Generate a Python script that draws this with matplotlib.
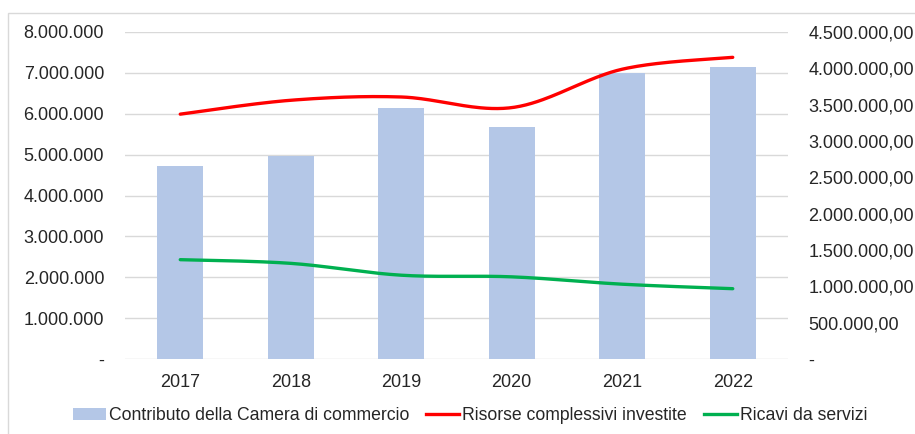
import numpy as np
import matplotlib
matplotlib.use("Agg")
import matplotlib.pyplot as plt
from matplotlib.ticker import FuncFormatter, MultipleLocator
from matplotlib.patches import Rectangle
from matplotlib.lines import Line2D
from matplotlib.patches import Patch

plt.rcParams['font.family'] = ['Liberation Sans', 'DejaVu Sans']

years = ['2017', '2018', '2019', '2020', '2021', '2022']
contributo = [2655000, 2797000, 3457000, 3196000, 3930000, 4017000]   # right axis
risorse = [5990000, 6330000, 6410000, 6150000, 7090000, 7380000]       # left axis
ricavi = [2430000, 2340000, 2050000, 2010000, 1830000, 1720000]        # left axis

labels = ['Contributo della Camera di commercio',
          'Risorse complessivi investite',
          'Ricavi da servizi']

BAR_C = '#B4C7E7'
RED = '#FF0000'
GREEN = '#00B050'
GRID = '#D9D9D9'
TXT = '#262626'
FS = 13


def smooth(xs, ys, n=40):
    xs = np.asarray(xs, float)
    ys = np.asarray(ys, float)
    P = np.column_stack([xs, ys])
    m = len(P)
    out = []
    for i in range(m - 1):
        p0 = P[i - 1] if i > 0 else P[i]
        p1 = P[i]
        p2 = P[i + 1]
        p3 = P[i + 2] if i + 2 < m else P[i + 1]
        c1 = p1 + (p2 - p0) / 6.0
        c2 = p2 - (p3 - p1) / 6.0
        t = np.linspace(0, 1, n)[:, None]
        seg = ((1 - t) ** 3) * p1 + 3 * ((1 - t) ** 2) * t * c1 + 3 * (1 - t) * t ** 2 * c2 + t ** 3 * p2
        out.append(seg if i == 0 else seg[1:])
    out = np.vstack(out)
    return out[:, 0], out[:, 1]


fig = plt.figure(figsize=(9.15, 4.34), dpi=100)
ax = fig.add_axes([125 / 915, 1 - 359 / 434, (788 - 125) / 915, (359 - 32) / 434])
ax2 = ax.twinx()

x = np.arange(len(years))

# bars on secondary axis
ax2.bar(x, contributo, width=0.415, color=BAR_C, zorder=2)
ax2.set_ylim(0, 4500000)
ax2.yaxis.set_major_locator(MultipleLocator(500000))

ax.set_ylim(0, 8000000)
ax.yaxis.set_major_locator(MultipleLocator(1000000))
ax.set_xlim(-0.5, len(years) - 0.5)

# lines on primary axis, drawn above bars
ax.set_zorder(ax2.get_zorder() + 1)
ax.patch.set_visible(False)
sx, sy = smooth(x, risorse)
ax.plot(sx, sy, color=RED, lw=2.4, solid_capstyle='round', zorder=3)
sx, sy = smooth(x, ricavi)
ax.plot(sx, sy, color=GREEN, lw=2.4, solid_capstyle='round', zorder=3)

# gridlines (drawn on secondary axis behind bars)
for v in np.arange(0, 8000001, 1000000):
    ax2.axhline(v * 4500000 / 8000000, color=GRID, lw=1.0, zorder=1)

for a in (ax, ax2):
    for s in a.spines.values():
        s.set_visible(False)
    a.tick_params(length=0, labelsize=FS, colors=TXT)

ax.set_xticks(x)
ax.set_xticklabels(years)
ax.tick_params(axis='x', pad=11)
ax.tick_params(axis='y', pad=15)
ax2.tick_params(axis='y', pad=14.5)


def fmt_left(v, pos):
    if abs(v) < 1:
        return '-'
    return f'{v:,.0f}'.replace(',', '.')


def fmt_right(v, pos):
    if abs(v) < 1:
        return '-'
    s = f'{v:,.2f}'
    return s.replace(',', 'X').replace('.', ',').replace('X', '.')


ax.yaxis.set_major_formatter(FuncFormatter(fmt_left))
ax2.yaxis.set_major_formatter(FuncFormatter(fmt_right))

# chart border
fig.patches.append(Rectangle((8 / 915, -0.02), 1.02, 1 - 13 / 434 + 0.02,
                             transform=fig.transFigure, fill=False,
                             edgecolor=GRID, lw=1.0))

handles = [Patch(facecolor=BAR_C, edgecolor='none'),
           Line2D([], [], color=RED, lw=2.4),
           Line2D([], [], color=GREEN, lw=2.4)]
fig.legend(handles, labels, loc='center', bbox_to_anchor=(470 / 915, 1 - 416 / 434),
           ncol=3, frameon=False, fontsize=12.7, handlelength=1.87, handleheight=0.68,
           handletextpad=0.17, columnspacing=0.96, labelcolor=TXT,
           borderpad=0, borderaxespad=0)

fig.savefig('out.png', dpi=100)
